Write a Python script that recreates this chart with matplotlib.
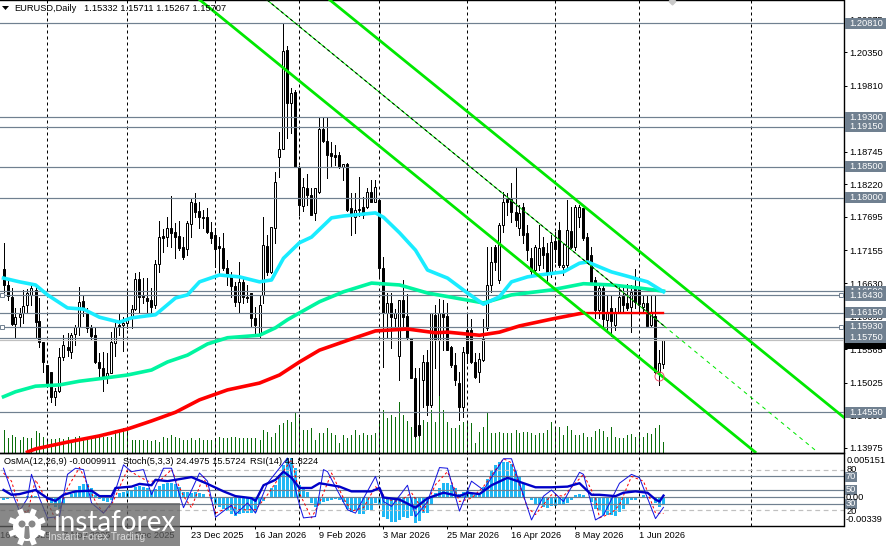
import numpy as np
import matplotlib
matplotlib.use('Agg')
import matplotlib.pyplot as plt
from matplotlib.patches import Rectangle, Circle, Polygon

plt.rcParams['font.family'] = ['Liberation Sans', 'DejaVu Sans']

# Daily candles, prices in 1/10000
opens = [11686,11660,11641,11597,11608,11615,11628,11644,11652,11602,
11568,11531,11520,11480,11489,11544,11560,11552,11581,11592,
11634,11615,11591,11579,11536,11526,11513,11518,11567,11596,
11596,11599,11607,11621,11670,11642,11639,11636,11628,11694,
11739,11737,11752,11745,11739,11721,11718,11758,11792,11779,
11768,11769,11745,11740,11723,11719,11687,11676,11658,11633,
11665,11641,11647,11607,11579,11644,11723,11681,11752,11866,
11879,12038,11953,11971,11850,11787,11816,11805,11776,11810,
11911,11892,11872,11869,11869,11850,11855,11784,11769,11781,
11786,11786,11810,11794,11797,11687,11615,11631,11607,11546,
11636,11610,11575,11510,11435,11507,11536,11467,11612,11571,
11615,11610,11560,11531,11502,11464,11587,11587,11536,11520,
11539,11591,11660,11721,11668,11757,11798,11798,11777,11752,
11786,11744,11703,11684,11692,11721,11711,11681,11731,11748,
11689,11692,11747,11721,11769,11784,11737,11708,11668,11620,
11655,11604,11623,11596,11616,11642,11631,11625,11658,11657,
11625,11631,11596,11610,11520,11533.2]
highs = [11728,11671,11655,11623,11623,11652,11653,11660,11660,11639,
11568,11531,11520,11494,11558,11579,11583,11583,11596,11657,
11644,11623,11596,11592,11550,11552,11550,11584,11599,11613,
11608,11652,11628,11679,11681,11671,11671,11655,11700,11763,
11750,11769,11803,11760,11763,11737,11763,11798,11808,11794,
11781,11784,11761,11752,11737,11744,11700,11681,11665,11697,
11671,11660,11647,11625,11644,11769,11740,11753,11842,11906,
12081,12045,11977,11974,11852,11832,11839,11816,11816,11929,
11929,11929,11890,11885,11874,11855,11856,11808,11808,11834,
11802,11816,11829,11829,11797,11705,11647,11647,11621,11636,
11668,11645,11575,11526,11526,11547,11555,11615,11628,11637,
11636,11631,11562,11550,11520,11560,11615,11605,11550,11550,
11605,11721,11721,11724,11760,11810,11808,11824,11848,11789,
11792,11757,11719,11724,11757,11737,11728,11740,11745,11761,
11728,11797,11786,11789,11789,11784,11744,11721,11673,11663,
11660,11644,11644,11623,11657,11658,11662,11660,11686,11671,
11644,11644,11644,11644,11555,11571.1]
lows = [11649,11636,11596,11576,11594,11599,11615,11628,11576,11560,
11520,11496,11472,11467,11488,11539,11546,11542,11563,11579,
11610,11584,11571,11534,11512,11489,11502,11518,11546,11579,
11554,11591,11591,11620,11615,11631,11615,11615,11623,11681,
11713,11723,11721,11703,11716,11702,11708,11737,11769,11752,
11752,11744,11728,11689,11679,11684,11660,11641,11626,11616,
11631,11633,11594,11579,11576,11631,11676,11679,11728,11834,
11879,11897,11905,11850,11773,11779,11789,11773,11765,11808,
11890,11832,11850,11853,11848,11829,11779,11740,11744,11771,
11768,11784,11794,11794,11671,11528,11575,11558,11591,11507,
11592,11571,11510,11415,11417,11464,11451,11464,11526,11483,
11555,11555,11528,11499,11443,11447,11534,11534,11510,11504,
11538,11587,11649,11684,11663,11745,11773,11761,11755,11740,
11728,11700,11676,11681,11684,11687,11666,11673,11697,11689,
11676,11689,11719,11716,11753,11732,11697,11663,11607,11607,
11591,11587,11578,11587,11615,11616,11620,11584,11623,11616,
11615,11592,11592,11518,11499,11526.7]
closes = [11660,11642,11597,11608,11613,11626,11647,11655,11600,11568,
11536,11502,11480,11489,11544,11563,11555,11579,11592,11633,
11621,11591,11578,11536,11526,11512,11518,11568,11592,11592,
11599,11607,11621,11670,11641,11641,11634,11625,11694,11737,
11736,11752,11744,11737,11719,11705,11760,11794,11777,11769,
11769,11745,11736,11718,11719,11687,11676,11658,11633,11665,
11641,11639,11607,11596,11628,11724,11681,11753,11826,11879,
12037,11953,11969,11850,11789,11818,11805,11773,11816,11911,
11892,11869,11868,11866,11850,11855,11781,11773,11781,11782,
11773,11810,11794,11818,11687,11615,11631,11608,11615,11636,
11608,11575,11510,11417,11418,11536,11467,11615,11571,11615,
11608,11555,11531,11507,11464,11552,11550,11536,11512,11541,
11573,11660,11697,11697,11757,11794,11794,11777,11765,11776,
11740,11716,11682,11721,11719,11708,11679,11729,11718,11692,
11692,11748,11721,11786,11786,11736,11700,11665,11620,11655,
11605,11616,11602,11615,11641,11628,11623,11649,11633,11629,
11631,11594,11615,11520,11534,11570.7]

volumes = [23,15,18,16,13,16,15,15,22,20,16,14,14,14,15,14,16,13,16,17,
15,16,16,18,18,16,16,16,23,22,25,26,13,13,13,13,13,12,13,11,
16,15,18,16,15,13,13,15,13,15,13,13,13,15,16,15,15,16,16,15,
15,15,15,15,13,23,21,16,20,28,30,33,31,40,35,
23,23,25,13,20,20,25,20,18,10,18,15,18,23,18,20,18,18,20,33,
43,35,38,36,51,38,32,26,30,28,33,31,43,31,58,43,31,25,25,28,
31,30,30,10,21,26,41,20,20,21,20,20,20,23,20,21,21,20,18,20,
20,23,31,25,26,
18,27,23,18,18,20,16,16,22,24,22,16,26,16,15,15,18,19,16,21,16,20,19,25,28,11]

# Moving averages, read at selected bars
ma_fast_bars = [0,4,8,11,16,20,24,29,32,38,43,46,49,54,59,64,67,70,74,77,82,85,93,95,99,103,106,111,116,120,124,127,131,134,140,144,146,152,156,161,165]
ma_fast = [11671,11665,11660,11644,11623,11621,11608,11600,11607,11612,11639,11644,11665,11676,11673,11665,11668,11703,11728,11737,11768,11771,11776,11769,11744,11716,11684,11671,11647,11629,11641,11665,11673,11676,11681,11695,11697,11681,11674,11665,11649]
ma_mid_bars = [0,3,8,14,19,24,31,37,41,46,51,56,64,68,71,74,79,85,92,99,106,113,120,127,137,145,152,159,165]
ma_mid = [11480,11488,11497,11499,11505,11509,11515,11523,11536,11547,11565,11575,11579,11591,11604,11615,11633,11649,11663,11660,11647,11639,11631,11644,11652,11662,11660,11655,11650]
ma_slow_bars = [6,8,16,24,31,37,43,49,56,64,69,74,79,87,93,101,108,111,119,124,129,137,145,165]
ma_slow = [11391,11396,11407,11417,11428,11441,11455,11475,11491,11502,11515,11536,11555,11573,11586,11589,11583,11584,11579,11584,11594,11605,11615,11615]

levels = [1.2081, 1.1930, 1.1915, 1.1850, 1.1800, 1.1650, 1.1643, 1.1615, 1.1593, 1.1575, 1.1455]
bid = 1.15707
alert_levels = [1.1643, 1.1593]
price_ticks = [1.20875, 1.20350, 1.19810, 1.19275, 1.18745, 1.18220, 1.17695, 1.17155, 1.16630, 1.16095, 1.15565, 1.15025, 1.14500, 1.13975]

# OsMA histogram in 1e-5
osma = [-35,-23,-12,-12,0,0,12,12,12,0,-12,-35,-70,-117,-140,-94,0,35,82,129,
152,152,105,23,-23,-47,-59,-35,0,47,59,70,82,117,129,117,105,70,94,129,
152,164,164,152,117,59,59,47,59,47,35,0,-23,-82,-117,-140,-164,-199,-222,-199,
-187,-187,-187,-176,-94,-47,0,105,140,257,374,456,456,339,140,105,59,-70,-117,-94,
-59,-47,-35,-23,-35,-59,-140,-176,-164,-199,-199,-152,-152,-70,-94,-234,-257,-293,-293,-269,
-234,-246,-222,-304,-281,-187,-187,-82,47,105,164,164,140,105,35,59,82,35,23,23,
117,211,316,374,410,410,410,386,316,234,152,0,-35,-82,-94,-117,-129,-105,-105,-94,
-94,-70,-35,23,35,23,0,-59,-140,-164,-211,-211,-211,-222,-176,-140,-82,-35,-35,0,
23,0,-12,-70,-117,-99.1]

rsi_bars = [0,2,4,6,8,11,13,15,18,22,24,27,28,32,34,37,38,41,47,51,55,58,62,63,65,68,70,72,74,77,79,82,84,87,92,94,95,99,103,106,110,114,116,119,122,126,130,133,137,141,144,147,149,153,155,158,161,163,164,165]
rsi = [50,43,44,47,50,38,34,43,48,49,41,41,53,55,59,57,65,63,69,59,48,41,38,34,57,65,77,68,53,53,60,57,55,48,48,53,39,36,24,38,46,41,46,44,57,68,60,54,54,55,60,43,43,41,46,48,46,36,33,41.82]
stoch_bars = [0,2,4,6,7,9,11,14,16,18,20,22,25,27,30,32,35,37,40,42,45,49,51,53,57,58,61,63,66,71,74,75,78,80,81,86,88,93,95,97,101,103,106,109,111,114,117,120,125,127,132,135,137,140,144,145,148,150,154,157,159,163,165]
stoch = [82,48,19,38,73,38,9,11,73,82,80,31,16,31,87,77,80,43,82,82,24,75,63,10,28,14,31,16,60,97,28,9,11,80,77,21,16,70,33,26,57,11,33,83,82,19,63,50,96,96,6,41,50,33,76,73,6,13,60,73,68,8,24.5]
signal_bars = [0,2,4,6,8,11,13,16,19,23,25,27,31,33,36,39,42,45,47,50,53,57,59,63,66,72,74,77,79,82,85,87,90,93,96,99,102,105,108,111,114,117,120,125,127,131,133,137,140,145,148,149,152,154,157,160,163,165]
signal = [75,63,24,16,65,33,6,53,83,33,16,28,80,73,63,63,80,41,24,70,16,26,21,21,43,95,45,9,31,75,38,19,24,55,36,33,46,19,58,77,33,38,55,96,90,24,14,43,41,73,38,9,16,28,70,63,16,15.57]
osc_levels = [70, 50, 30]
osc_dash_levels = [80, 20]

grid_bars = [11, 31, 53, 74, 94, 116, 138, 159, 187]
date_bars = [-1, 15, 31, 47, 63, 79, 95, 111, 127, 143, 159]
date_labels = ['16 Oct 2025', '7 Nov 2025', '1 Dec 2025', '23 Dec 2025', '16 Jan 2026', '9 Feb 2026',
               '3 Mar 2026', '25 Mar 2026', '16 Apr 2026', '8 May 2026', '1 Jun 2026']

# Trend channel: two bars and two prices for each line
upper_bars = [81.6, 210]
upper_prices = [1.21188, 1.14473]
lower_bars = [49.1, 187.9]
lower_prices = [1.21188, 1.13910]
middle_bars = [65.9, 165, 202.9]
middle_prices = [1.21188, 1.15947, 1.13942]

opens, highs, lows, closes = [np.array(a) / 10000 for a in (opens, highs, lows, closes)]
osma = np.array(osma) * 1e-5
ma_fast, ma_mid, ma_slow = [np.array(a) / 10000 for a in (ma_fast, ma_mid, ma_slow)]
bars = np.arange(len(opens))

W, H = 886, 546
PANE_R, MAIN_B, SUB_B = 843.5, 453, 526
PX = 0.72  # one pixel in points at dpi 100
GRAY = '#708090'
FS = 6.7

fig = plt.figure(figsize=(W / 100, H / 100), dpi=100, facecolor='white')
rect_main = [0, 1 - MAIN_B / H, PANE_R / W, MAIN_B / H]
rect_sub = [0, 1 - SUB_B / H, PANE_R / W, (SUB_B - MAIN_B) / H]
xlim = (-0.875, 210)

# Volume sits behind the price pane
ax_vol = fig.add_axes(rect_main, zorder=0)
ax_vol.vlines(bars, 0, volumes, color='#0b6e0b', lw=PX, antialiased=False)
ax_vol.set_xlim(xlim)
ax_vol.set_ylim(0, MAIN_B)
ax_vol.axis('off')

ax = fig.add_axes(rect_main, zorder=1)
ax.patch.set_visible(False)
ax.set_xlim(xlim)
ax.set_ylim(1.13894, 1.21188)

for b in grid_bars:
    ax.axvline(b, color='black', lw=PX, ls=(0, (3, 3)), zorder=1)

up = closes >= opens
body_bottom = np.minimum(opens, closes)
body_height = np.abs(closes - opens)
ax.vlines(bars, lows, highs, color='black', lw=PX, antialiased=False, zorder=3)
ax.bar(bars[up], body_height[up], bottom=body_bottom[up], width=0.5, facecolor='white',
       edgecolor='black', lw=PX, zorder=3.1)
ax.bar(bars[~up], body_height[~up], bottom=body_bottom[~up], width=0.5, facecolor='black',
       edgecolor='black', lw=PX, zorder=3.1)

for lv in levels:
    ax.axhline(lv, color=GRAY, lw=PX * 1.2, zorder=3.5)
ax.axhline(bid, color='#c0c0c0', lw=PX * 1.2, zorder=3.5)

ax.plot(ma_slow_bars[:-1], ma_slow[:-1], color='#ff0000', lw=2.6, zorder=4)
ax.plot(ma_slow_bars[-2:], ma_slow[-2:], color='#ff0000', lw=1.7, zorder=4)
ax.plot(ma_mid_bars, ma_mid, color='#00f5a0', lw=2.6, zorder=4)
ax.plot(ma_fast_bars, ma_fast, color='#19ecff', lw=2.6, zorder=4)

ax.plot(upper_bars, upper_prices, color='#00e800', lw=2.0, zorder=5)
ax.plot(lower_bars, lower_prices, color='#00e800', lw=2.0, zorder=5)
ax.plot(middle_bars[:2], middle_prices[:2], color='#00e800', lw=PX, zorder=5)
ax.plot(middle_bars[:2], middle_prices[:2], color='black', lw=PX, ls=(0, (3, 3)), zorder=5.1)
ax.plot(middle_bars[1:], middle_prices[1:], color='#00e800', lw=PX, ls=(0, (4, 4)), zorder=5)

# Marker around the last swing low
ax.plot([164], [1.15134], marker='o', ms=6.5, mfc='none', mec='#f0506e', mew=0.7, zorder=6)

ax.yaxis.tick_right()
ax.set_yticks(price_ticks)
ax.set_yticklabels(['%.5f' % t for t in price_ticks], fontsize=FS)
ax.tick_params(axis='y', length=2.5, width=PX, pad=1.5, colors='black')
ax.set_xticks([])
ax.spines['left'].set_visible(False)
for s in ['top', 'right', 'bottom']:
    ax.spines[s].set_linewidth(PX * 1.4)

# Price labels on the scale, each one covering the previous
trans = ax.get_yaxis_transform()
box_h = 11 / 6210
box_x0, box_w, text_x = 845 / PANE_R, 41 / PANE_R, 849 / PANE_R
ax.add_patch(Rectangle((box_x0, bid - box_h / 2 - 0.0005), box_w, box_h, transform=trans, clip_on=False,
                       fc='black', ec='none', zorder=6.5))
for n, lv in enumerate(levels):
    ax.add_patch(Rectangle((box_x0, lv - box_h / 2), box_w, box_h, transform=trans, clip_on=False,
                           fc=GRAY, ec='none', zorder=7 + n * 0.1))
    ax.text(text_x, lv, '%.5f' % lv, transform=trans, color='white', fontsize=FS, va='center',
            clip_on=False, zorder=7.05 + n * 0.1)

# Small alert handles on both edges of the pane
for lv in alert_levels:
    ax.plot([2 / PANE_R, 841 / PANE_R], [lv, lv], transform=trans, ls='none', marker='s', ms=3.2,
            mfc='white', mec=GRAY, mew=0.7, zorder=8.5, clip_on=False)

# Oscillator pane
ax_osma = fig.add_axes(rect_sub, zorder=2)
ax_osma.bar(bars, osma, width=0.75, color='#1fb8f5', lw=0)
ax_osma.set_xlim(xlim)
ax_osma.set_ylim(-0.00339, 0.005151)
ax_osma.axhline(0, color=GRAY, lw=PX * 1.2)
ax_osma.axis('off')

ax_osc = fig.add_axes(rect_sub, zorder=3)
ax_osc.patch.set_visible(False)
ax_osc.set_xlim(xlim)
ax_osc.set_ylim(-2.9, 104.4)
for b in grid_bars:
    ax_osc.axvline(b, color='black', lw=PX, ls=(0, (3, 3)), zorder=1)
for lv in osc_levels:
    ax_osc.axhline(lv, color=GRAY, lw=PX * 1.2, zorder=1.5)
for lv in osc_dash_levels:
    ax_osc.axhline(lv, color='#c0c0c0', lw=PX * 1.2, ls=(0, (4, 3)), zorder=1.5)
ax_osc.plot(signal_bars, signal, color='#ff0000', lw=PX, ls=(0, (2.5, 2.5)), zorder=3)
ax_osc.plot(stoch_bars, stoch, color='#1414e0', lw=PX, zorder=3.1)
ax_osc.plot(rsi_bars, rsi, color='#0000c8', lw=1.7, zorder=3.2)
ax_osc.set_yticks([])
ax_osc.set_xticks(date_bars[1:])
ax_osc.set_xticklabels([])
ax_osc.tick_params(axis='x', length=2.5, width=PX)
ax_osc.spines['left'].set_visible(False)
for s in ['top', 'right', 'bottom']:
    ax_osc.spines[s].set_linewidth(PX * 1.4)

for b, lab in zip(date_bars, date_labels):
    ax_osc.text(b, -9.7 / 73, lab, transform=ax_osc.get_xaxis_transform(), fontsize=FS, ha='left',
                va='center', clip_on=False)

# Header, scale texts of the lower pane and the logo, in pixel positions
top = fig.add_axes([0, 0, 1, 1], zorder=10)
top.set_xlim(0, W)
top.set_ylim(H, 0)
top.axis('off')

top.add_patch(Polygon([(2, 6), (9, 6), (5.5, 10)], closed=True, fc='black', ec='none'))
top.text(14, 8.5, 'EURUSD,Daily', fontsize=FS, va='center')
top.text(84, 8.5, '1.15332 1.15711 1.15267 1.15707', fontsize=FS, va='center')
top.text(4, 462, 'OsMA(12,26,9) -0.0009911', fontsize=FS, va='center')
top.text(123, 462, 'Stoch(5,3,3) 24.4975 15.5724', fontsize=FS, va='center')
top.text(250, 462, 'RSI(14) 41.8224', fontsize=FS, va='center')

top.text(847, 460.5, '0.005151', fontsize=FS, va='center')
top.text(847, 469.5, '80', fontsize=FS, va='center')
top.text(846, 497, '0.00', fontsize=FS, va='center')
top.text(847, 511.5, '20', fontsize=FS, va='center')
top.text(846, 519.5, '-0.00339', fontsize=FS, va='center')
for yc, lab in [(476.7, '70'), (490, '50'), (504, '30')]:
    top.add_patch(Rectangle((845, yc - 4.8), 12, 9.6, fc=GRAY, ec='none'))
    top.text(851, yc, lab, color='white', fontsize=FS, va='center', ha='center')
top.plot([672], [1], marker='D', ms=3.5, color='#c8c8c8')

top.add_patch(Rectangle((0, 503), 180, 43, fc='#606060', ec='none', alpha=0.75))
cx, cy = 27, 527
for a in np.arange(0, 360, 45):
    r = np.radians(a + 22.5)
    top.plot([cx + 11 * np.cos(r), cx + 19 * np.cos(r)], [cy + 11 * np.sin(r), cy + 19 * np.sin(r)],
             color='white', lw=4, solid_capstyle='butt')
top.add_patch(Circle((cx, cy), 14, fc='white', ec='none'))
top.add_patch(Circle((cx - 5, cy - 3), 3.5, fc='#888888', ec='none'))
top.add_patch(Circle((cx + 5, cy - 3), 3.5, fc='#888888', ec='none'))
top.add_patch(Polygon([(cx - 2, cy - 1), (cx + 2, cy - 1), (cx + 3, cy + 12), (cx - 3, cy + 12)], fc='#888888', ec='none'))
top.text(53, 523, 'instaforex', color='white', fontsize=20, family='Lato', va='center')
top.text(48, 536.5, 'Instant Forex Trading', color='#e8e8e8', fontsize=7.4, va='center', alpha=0.85)

fig.savefig('out.png', dpi=100)
